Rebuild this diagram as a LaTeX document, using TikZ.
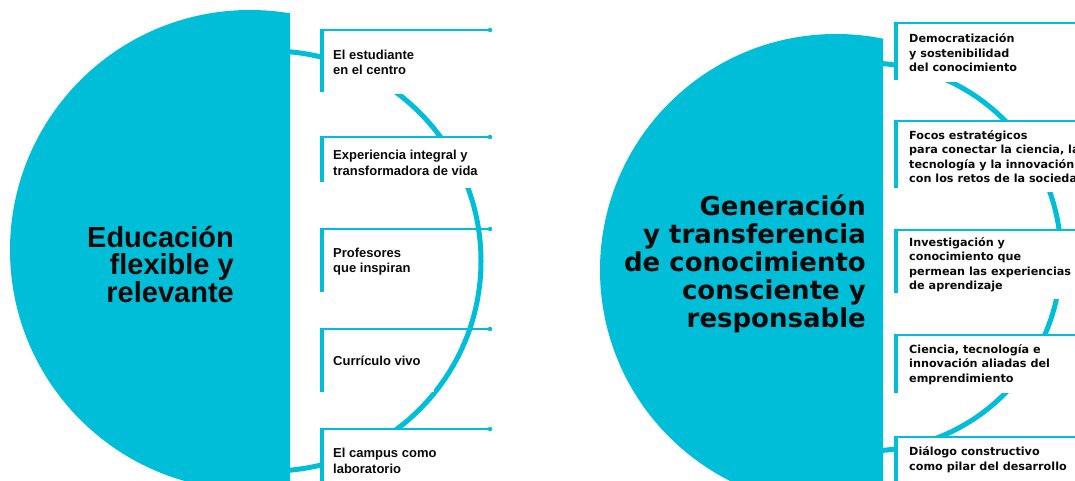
\documentclass[tikz,border=0pt]{standalone}
\usepackage{fontspec}
\setmainfont{Liberation Sans}
\newfontfamily\dvfont{DejaVu Sans}
\definecolor{brand}{RGB}{0,190,216}
\definecolor{ink}{RGB}{10,10,10}
\begin{document}
\begin{tikzpicture}[x=1pt,y=-1pt,
  ring/.style={draw=brand,line width=5pt},
  disk/.style={fill=brand},
  lbox/.style={rectangle,fill=white,anchor=north west,inner xsep=13pt,inner ysep=0pt,
    align=left,text=ink,font=\fontsize{13}{15.5}\selectfont\bfseries},
  rbox/.style={rectangle,fill=white,anchor=north west,inner xsep=15pt,inner ysep=0pt,
    align=left,text=ink,font=\dvfont\fontsize{11.2}{14.5}\selectfont\bfseries},
  bar/.style={draw=brand,line width=4pt},
  tline/.style={draw=brand,line width=1.3pt},
  tdot/.style={circle,fill=brand,inner sep=0pt,minimum size=4.5pt},
  ltitle/.style={align=right,inner sep=0pt,text=ink,font=\fontsize{29}{27.5}\selectfont\bfseries},
  rtitle/.style={align=right,inner sep=0pt,text=ink,font=\dvfont\fontsize{26}{28}\selectfont\bfseries},
]
\useasboundingbox (0,0) rectangle (1075,480);
\clip (0,0) rectangle (1075,480);
\fill[white] (0,0) rectangle (1075,480);

% rings
\draw[ring] (271,261) circle (210);
\draw[ring] (867,257) circle (194);

% half disks
\begin{scope}
  \clip (0,0) rectangle (290,480);
  \fill[disk] (250,250) circle (240);
\end{scope}
\begin{scope}
  \clip (500,0) rectangle (883,480);
  \fill[disk] (836,270) circle (236);
\end{scope}

\coordinate (ldot) at (490,0);
\coordinate (rend) at (1090,0);

% left boxes
\node[lbox,minimum height=64pt] (l1) at (320,30) {El estudiante\\en el centro};
\node[lbox,minimum height=51pt] (l2) at (320,137) {Experiencia integral y\\transformadora de vida};
\node[lbox,minimum height=65pt] (l3) at (320,229) {Profesores\\que inspiran};
\node[lbox,minimum height=63pt] (l4) at (320,329) {Currículo vivo};
\node[lbox,minimum height=63pt] (l5) at (320,429) {El campus como\\laboratorio};

\draw[bar] ([xshift=2pt]l1.north west) -- ++(0,62);
\draw[bar] ([xshift=2pt]l2.north west) -- ++(0,45);
\draw[bar] ([xshift=2pt]l3.north west) -- ++(0,63);
\draw[bar] ([xshift=2pt]l4.north west) -- ++(0,63);
\draw[bar] ([xshift=2pt]l5.north west) -- ++(0,60);

\foreach \b in {l1,l2,l3,l4,l5}{
  \draw[tline] (\b.north west) -- (\b.north west -| ldot) node[tdot] (\b dot) {};
}

% right boxes
\node[rbox,minimum height=59pt] (r1) at (894,23) {Democratización\\y sostenibilidad\\del conocimiento};
\node[rbox,minimum height=71pt] (r2) at (894,121) {Focos estratégicos\\para conectar la ciencia, la\\tecnología y la innovación\\con los retos de la sociedad};
\node[rbox,minimum height=69pt] (r3) at (894,230) {Investigación y\\conocimiento que\\permean las experiencias\\de aprendizaje};
\node[rbox,minimum height=58pt] (r4) at (894,335) {Ciencia, tecnología e\\innovación aliadas del\\emprendimiento};
\node[rbox,minimum height=45pt] (r5) at (894,437) {Diálogo constructivo\\como pilar del desarrollo};

\draw[bar] ([xshift=2pt]r1.north west) -- ++(0,57);
\draw[bar] ([xshift=2pt]r2.north west) -- ++(0,67);
\draw[bar] ([xshift=2pt]r3.north west) -- ++(0,63);
\draw[bar] ([xshift=2pt]r4.north west) -- ++(0,58);
\draw[bar] ([xshift=2pt]r5.north west) -- ++(0,50);

\foreach \b in {r1,r2,r3,r4,r5}{
  \draw[tline] (\b.north west) -- (\b.north west -| rend);
}

% titles
\node[ltitle,anchor=base east] (lt) at (234,302) {Educación\\flexible y\\relevante};
\node[rtitle,anchor=base east] (rt) at (866,327) {Generación\\y transferencia\\de conocimiento\\consciente y\\responsable};
\end{tikzpicture}
\end{document}
